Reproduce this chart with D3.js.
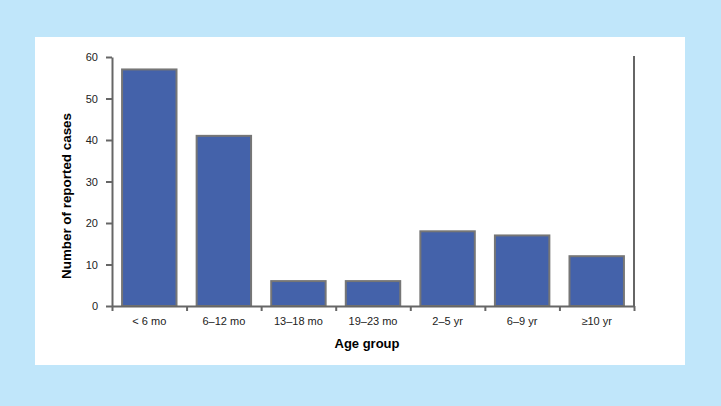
<!DOCTYPE html>
<html><head><meta charset="utf-8">
<script src="https://cdn.jsdelivr.net/npm/d3@7"></script>
<style>html,body{margin:0;padding:0;background:#c0e6fa;} svg{display:block;}</style>
</head><body>
<svg id="c" width="721" height="406"></svg>
<script>
const categories = ["< 6 mo","6–12 mo","13–18 mo","19–23 mo","2–5 yr","6–9 yr","≥10 yr"];
const values = [57, 41, 6, 6, 18, 17, 12];
const yTicks = [0,10,20,30,40,50,60];
const yTitle = "Number of reported cases";
const xTitle = "Age group";

const svg = d3.select("#c");
svg.append("rect").attr("x",0).attr("y",0).attr("width",721).attr("height",406).attr("fill","#c0e6fa");
svg.append("rect").attr("x",35).attr("y",37).attr("width",650).attr("height",328).attr("fill","#ffffff");

const pLeft=112, pRight=634, pTop=57, pBottom=306;
const x = d3.scaleBand().domain(categories).range([pLeft,pRight]).paddingInner(0.27).paddingOuter(0.135);
const xb = d3.scaleLinear().domain([0,categories.length]).range([pLeft,pRight]);
const y = d3.scaleLinear().domain([0,60]).range([pBottom,pTop]);

// bars
svg.selectAll("rect.bar").data(values).enter().append("rect")
  .attr("class","bar")
  .attr("x",(d,i)=>x(categories[i]))
  .attr("y",d=>y(d))
  .attr("width",x.bandwidth())
  .attr("height",d=>pBottom-y(d))
  .attr("fill","#4462aa").attr("stroke","#767676").attr("stroke-width",2);

// right line
svg.append("line").attr("x1",pRight).attr("x2",pRight).attr("y1",y(60)-1).attr("y2",pBottom)
  .attr("stroke","#333").attr("stroke-width",1.5);

// y axis
const ya = svg.append("g").attr("transform",`translate(${pLeft},0)`)
  .call(d3.axisLeft(y).tickValues(yTicks).tickSize(6).tickSizeOuter(0).tickPadding(8));
ya.select(".domain").attr("stroke","#666").attr("stroke-width",2);
ya.selectAll(".tick line").attr("stroke","#666").attr("stroke-width",2);
ya.selectAll(".tick text").attr("font-family","Liberation Sans, Arial, sans-serif").attr("font-size",11).attr("fill","#222");

// x axis (ticks at category boundaries)
const xa = svg.append("g").attr("transform",`translate(0,${pBottom})`)
  .call(d3.axisBottom(xb).tickValues(d3.range(0,categories.length+1)).tickSize(5).tickSizeOuter(0).tickFormat(""));
xa.select(".domain").attr("stroke","#666").attr("stroke-width",2);
xa.selectAll(".tick line").attr("stroke","#666").attr("stroke-width",2);

// x labels
svg.selectAll("text.xl").data(categories).enter().append("text")
  .attr("class","xl")
  .attr("x",d=>x(d)+x.bandwidth()/2)
  .attr("y",325)
  .attr("text-anchor","middle")
  .attr("font-family","Liberation Sans, Arial, sans-serif").attr("font-size",11).attr("fill","#222")
  .text(d=>d);

// titles
svg.append("text").attr("x",367).attr("y",348).attr("text-anchor","middle")
  .attr("font-family","Liberation Sans, Arial, sans-serif").attr("font-size",13).attr("font-weight","bold").attr("fill","#000")
  .text(xTitle);
svg.append("text").attr("transform","translate(71,196) rotate(-90)").attr("text-anchor","middle")
  .attr("font-family","Liberation Sans, Arial, sans-serif").attr("font-size",13.4).attr("font-weight","bold").attr("fill","#000")
  .text(yTitle);
</script>
</body></html>
